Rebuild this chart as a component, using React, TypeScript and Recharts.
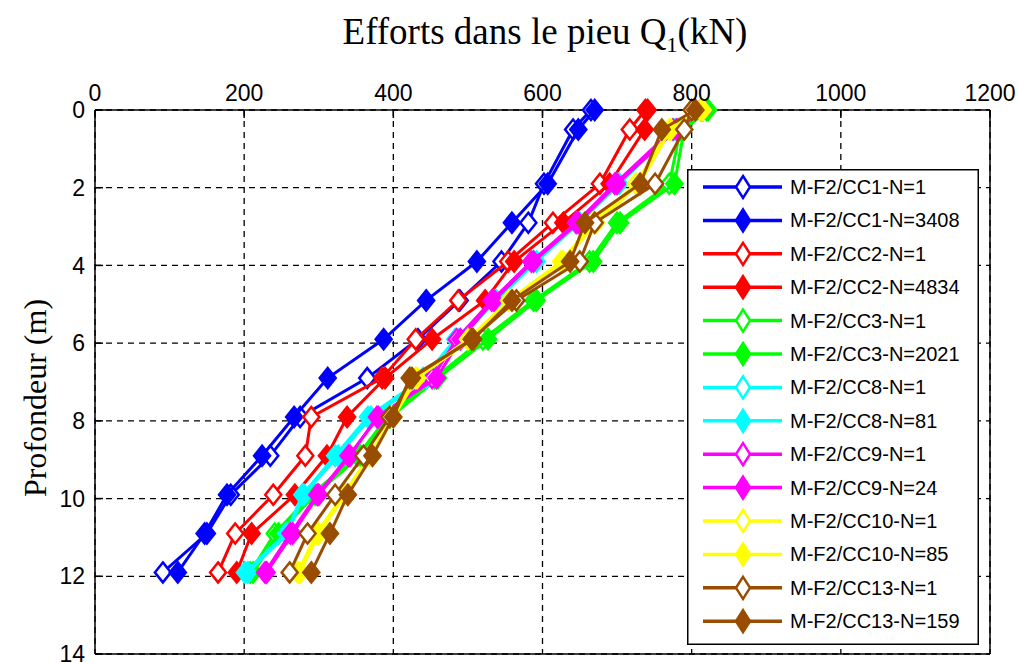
import React from "react";
import { ScatterChart, Scatter, XAxis, YAxis, CartesianGrid, Legend } from "recharts";

// profondeur (m) of the measuring points
const depths = [0, 0.5, 1.9, 2.9, 3.9, 4.9, 5.9, 6.9, 7.9, 8.9, 9.9, 10.9, 11.9];

// effort Q1 (kN) at each depth
const cc1N1 = [665, 641, 602, 581, 545, 489, 433, 365, 275, 235, 182, 150, 91];
const cc1N3408 = [670, 648, 607, 559, 512, 444, 387, 312, 267, 224, 177, 147, 111];
const cc2N1 = [738, 717, 677, 614, 554, 487, 430, 385, 290, 282, 239, 188, 165];
const cc2N4834 = [741, 737, 690, 628, 562, 523, 452, 389, 338, 311, 268, 210, 190];
const cc3N1 = [820, 785, 770, 700, 663, 588, 520, 455, 392, 352, 290, 241, 208];
const cc3N2021 = [822, 790, 777, 704, 668, 592, 527, 460, 396, 356, 295, 246, 212];
const cc8N1 = [813, 775, 700, 646, 588, 535, 483, 440, 366, 322, 278, 256, 201];
const cc8N81 = [815, 778, 703, 650, 592, 538, 488, 445, 370, 326, 280, 258, 205];
const cc9N1 = [812, 775, 697, 645, 585, 532, 485, 452, 380, 340, 298, 262, 228];
const cc9N24 = [815, 780, 700, 648, 588, 535, 490, 458, 378, 342, 300, 265, 230];
const cc10N1 = [812, 770, 725, 668, 625, 555, 500, 430, 398, 368, 333, 297, 272];
const cc10N85 = [815, 772, 730, 672, 628, 560, 505, 432, 400, 372, 336, 300, 275];
const cc13N1 = [800, 790, 751, 670, 650, 565, 505, 425, 395, 360, 322, 285, 261];
const cc13N159 = [805, 760, 731, 657, 637, 559, 507, 422, 400, 372, 339, 315, 290];

const xTicks = [0, 200, 400, 600, 800, 1000, 1200];
const yTicks = [0, 2, 4, 6, 8, 10, 12, 14];

const BROWN = "#994D00";

const series = [
  { name: "M-F2/CC1-N=1", values: cc1N1, color: "#0000FF", filled: false },
  { name: "M-F2/CC1-N=3408", values: cc1N3408, color: "#0000FF", filled: true },
  { name: "M-F2/CC2-N=1", values: cc2N1, color: "#FF0000", filled: false },
  { name: "M-F2/CC2-N=4834", values: cc2N4834, color: "#FF0000", filled: true },
  { name: "M-F2/CC3-N=1", values: cc3N1, color: "#00FF00", filled: false },
  { name: "M-F2/CC3-N=2021", values: cc3N2021, color: "#00FF00", filled: true },
  { name: "M-F2/CC8-N=1", values: cc8N1, color: "#00FFFF", filled: false },
  { name: "M-F2/CC8-N=81", values: cc8N81, color: "#00FFFF", filled: true },
  { name: "M-F2/CC9-N=1", values: cc9N1, color: "#FF00FF", filled: false },
  { name: "M-F2/CC9-N=24", values: cc9N24, color: "#FF00FF", filled: true },
  { name: "M-F2/CC10-N=1", values: cc10N1, color: "#FFFF00", filled: false },
  { name: "M-F2/CC10-N=85", values: cc10N85, color: "#FFFF00", filled: true },
  { name: "M-F2/CC13-N=1", values: cc13N1, color: BROWN, filled: false },
  { name: "M-F2/CC13-N=159", values: cc13N159, color: BROWN, filled: true },
];

const tickFont = { fill: "#000", fontSize: 23, fontFamily: "Liberation Sans, Arial, sans-serif" };

function diamond(cx: number, cy: number, color: string, filled: boolean, w = 8, h = 10) {
  return (
    <path
      d={`M${cx},${cy - h} L${cx + w},${cy} L${cx},${cy + h} L${cx - w},${cy} Z`}
      fill={filled ? color : "#fff"}
      stroke={color}
      strokeWidth={2.5}
    />
  );
}

function MatlabLegend() {
  const rowH = 33.4;
  return (
    <svg width={292} height={476} style={{ display: "block" }}>
      <rect x={0.75} y={0.75} width={290.5} height={474.5} fill="#fff" stroke="#000" strokeWidth={1.5} />
      {series.map((s, i) => {
        const cy = 18 + i * rowH;
        return (
          <g key={s.name}>
            <line x1={16} x2={95} y1={cy} y2={cy} stroke={s.color} strokeWidth={3.5} />
            {diamond(56, cy, s.color, s.filled, 7, 11)}
            <text x={103} y={cy + 7} fontSize={20} fontFamily="Liberation Sans, Arial, sans-serif" fill="#000">
              {s.name}
            </text>
          </g>
        );
      })}
    </svg>
  );
}

export default function App() {
  return (
    <div style={{ position: "absolute", left: 0, top: 0, width: 1018, height: 662, background: "#fff", overflow: "hidden" }}>
      <div
        style={{
          position: "absolute",
          left: 245,
          top: 10,
          width: 600,
          textAlign: "center",
          fontFamily: "Liberation Serif, Times New Roman, serif",
          fontSize: 37,
          color: "#000",
          whiteSpace: "nowrap",
        }}
      >
        Efforts dans le pieu Q<sub style={{ fontSize: 22 }}>1</sub>(kN)
      </div>
      <div
        style={{
          position: "absolute",
          left: 35 - 150,
          top: 398 - 20,
          width: 300,
          height: 40,
          lineHeight: "40px",
          textAlign: "center",
          transform: "rotate(-90deg)",
          fontFamily: "Liberation Serif, Times New Roman, serif",
          fontSize: 32,
          color: "#000",
          whiteSpace: "nowrap",
        }}
      >
        Profondeur (m)
      </div>
      <ScatterChart width={1018} height={662} margin={{ top: 80, right: 0, bottom: 7, left: 0 }}>
        <CartesianGrid stroke="#000" strokeWidth={1.3} strokeDasharray="6 5" />
        <XAxis
          type="number"
          dataKey="q"
          orientation="top"
          height={30}
          domain={[0, 1200]}
          ticks={xTicks}
          interval={0}
          tick={tickFont}
          tickSize={-8}
          tickMargin={17}
          axisLine={{ stroke: "#000", strokeWidth: 1.5 }}
          tickLine={{ stroke: "#000", strokeWidth: 1.5 }}
        />
        <XAxis
          xAxisId="b"
          type="number"
          orientation="bottom"
          height={1}
          domain={[0, 1200]}
          ticks={xTicks}
          interval={0}
          tickFormatter={() => ""}
          tickSize={-8}
          axisLine={{ stroke: "#000", strokeWidth: 1.5 }}
          tickLine={{ stroke: "#000", strokeWidth: 1.5 }}
        />
        <YAxis
          type="number"
          dataKey="z"
          width={95}
          domain={[0, 14]}
          reversed
          ticks={yTicks}
          interval={0}
          tick={tickFont}
          tickSize={-8}
          tickMargin={18}
          axisLine={{ stroke: "#000", strokeWidth: 1.5 }}
          tickLine={{ stroke: "#000", strokeWidth: 1.5 }}
        />
        <YAxis
          yAxisId="r"
          type="number"
          orientation="right"
          width={28}
          domain={[0, 14]}
          reversed
          ticks={yTicks}
          interval={0}
          tickFormatter={() => ""}
          tickSize={-8}
          axisLine={{ stroke: "#000", strokeWidth: 1.5 }}
          tickLine={{ stroke: "#000", strokeWidth: 1.5 }}
        />
        {series.map((s) => (
          <Scatter
            key={s.name}
            name={s.name}
            data={depths.map((d, i) => ({ z: d, q: s.values[i] }))}
            line={{ stroke: s.color, strokeWidth: 3 }}
            shape={(p: any) => diamond(p.cx, p.cy, s.color, s.filled)}
            isAnimationActive={false}
          />
        ))}
        <Legend
          layout="vertical"
          align="center"
          verticalAlign="middle"
          content={() => <MatlabLegend />}
          wrapperStyle={{ position: "absolute", left: 687, top: 169, width: 292, height: 476, margin: 0 }}
        />
      </ScatterChart>
    </div>
  );
}
